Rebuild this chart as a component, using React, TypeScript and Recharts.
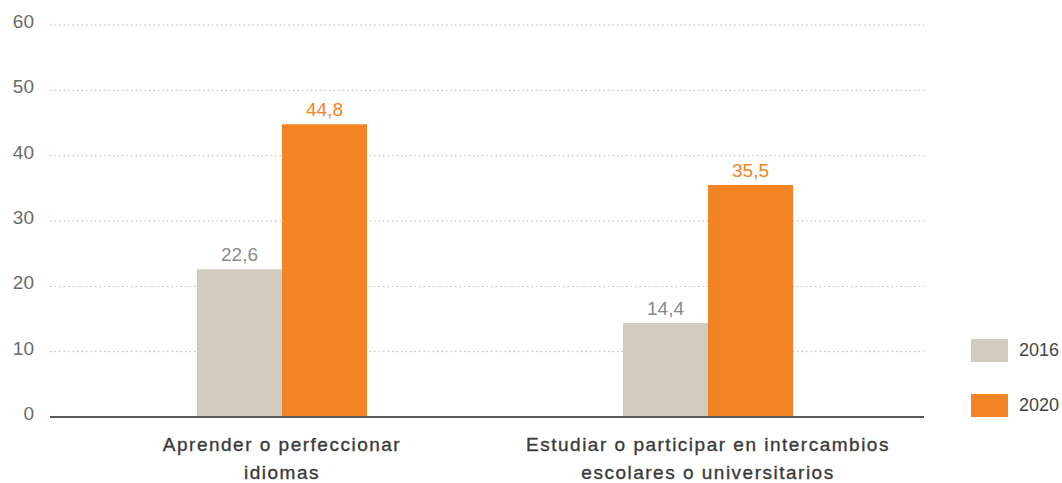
import { BarChart, Bar, XAxis, YAxis, CartesianGrid, LabelList } from "recharts";

const categories = [
  ["Aprender o perfeccionar", "idiomas"],
  ["Estudiar o participar en intercambios", "escolares o universitarios"],
];
const values2016 = [22.6, 14.4];
const values2020 = [44.8, 35.5];
const yTicks = [0, 10, 20, 30, 40, 50, 60];

const series = [
  { key: "y2016", name: "2016", color: "#d0cdc0", labelColor: "#8a8a8a", values: values2016 },
  { key: "y2020", name: "2020", color: "#f28423", labelColor: "#f28423", values: values2020 },
];

const data = categories.map((lines, i) => ({
  name: lines.join(" "),
  y2016: values2016[i],
  y2020: values2020[i],
}));

const FONT = '"Liberation Sans", Arial, Helvetica, sans-serif';
const fmt = (v: any) => String(v).replace(".", ",");

function CategoryTick(props: any) {
  const { x, y, index } = props;
  const lines = categories[index] || [];
  return (
    <g>
      {lines.map((line, i) => (
        <text
          key={i}
          x={x}
          y={y + 26 + i * 28}
          textAnchor="middle"
          fontSize={19}
          fill="#3a3a3a"
          stroke="#3a3a3a"
          strokeWidth={0.35}
          letterSpacing={1.5}
          fontFamily={FONT}
        >
          {line}
        </text>
      ))}
    </g>
  );
}

function ValueTick(props: any) {
  const { x, y, payload } = props;
  return (
    <text x={x} y={y + 3} textAnchor="end" fontSize={19} fill="#6b6b6b" fontFamily={FONT}>
      {payload.value}
    </text>
  );
}

export default function App() {
  return (
    <div style={{ position: "relative", width: 1062, height: 483, fontFamily: FONT, overflow: "hidden" }}>
      <style>{"html,body{margin:0;padding:0;overflow:hidden}"}</style>
      <BarChart
        width={1062}
        height={483}
        data={data}
        margin={{ top: 25, right: 138, bottom: 6, left: 0 }}
        barGap={0}
        barSize={85}
      >
        <CartesianGrid vertical={false} stroke="#b5b5b5" strokeDasharray="1.5 3" />
        <XAxis
          dataKey="name"
          tickLine={false}
          axisLine={{ stroke: "#5a5a5a", strokeWidth: 2 }}
          height={60}
          padding={{ left: 19, right: 3 }}
          tick={<CategoryTick />}
          interval={0}
        />
        <YAxis
          domain={[0, 60]}
          ticks={yTicks}
          width={50}
          axisLine={false}
          tickLine={false}
          tickMargin={10}
          tick={<ValueTick />}
        />
        {series.map((s) => (
          <Bar key={s.key} dataKey={s.key} name={s.name} fill={s.color} isAnimationActive={false}>
            <LabelList
              dataKey={s.key}
              position="top"
              offset={8}
              formatter={fmt}
              fill={s.labelColor}
              fontSize={19}
              fontFamily={FONT}
            />
          </Bar>
        ))}
      </BarChart>
      <div style={{ position: "absolute", left: 971, top: 339 }}>
        {series.map((s, i) => (
          <div
            key={s.key}
            style={{ display: "flex", alignItems: "center", height: 23, marginBottom: i === 0 ? 32 : 0 }}
          >
            <div style={{ width: 37, height: 23, background: s.color }} />
            <span style={{ marginLeft: 11, fontSize: 18, color: "#444" }}>{s.name}</span>
          </div>
        ))}
      </div>
    </div>
  );
}
